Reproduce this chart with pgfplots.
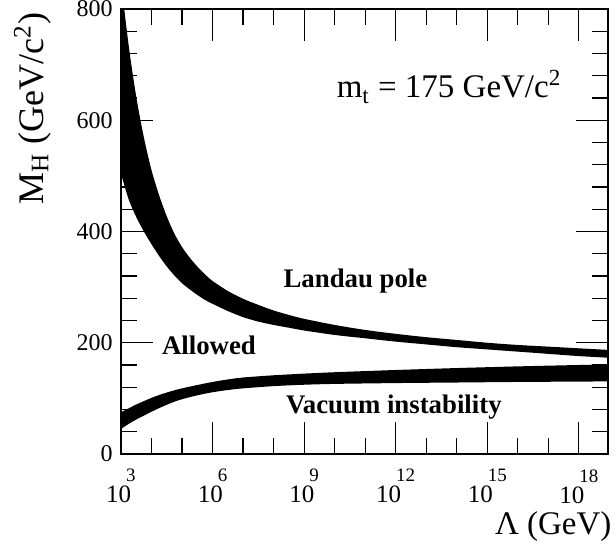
\documentclass[border=0pt]{standalone}
\usepackage{pgfplots}
\pgfplotsset{compat=1.18}
\usepgfplotslibrary{fillbetween}
\usepackage{fontspec}
\setmainfont{Liberation Serif}

% power-of-ten tick label with a raised exponent
\newcommand{\tenpow}[1]{10\kern-2.5pt\raisebox{10.5pt}{\fontsize{9.5}{9.5}\selectfont #1}}

\begin{document}
\begin{tikzpicture}
\begin{axis}[
  name=ax,
  scale only axis,
  width=243.5pt, height=222.5pt,
  xmode=log, log basis x=10,
  xmin=1e3, xmax=9e18,
  ymin=0, ymax=800,
  xtick={1e3,1e6,1e9,1e12,1e15,1e18},
  xticklabels={\tenpow{3},\tenpow{6},\tenpow{9},\tenpow{12},\tenpow{15},\tenpow{18}},
  minor xtick={1e4,1e5,1e7,1e8,1e10,1e11,1e13,1e14,1e16,1e17},
  ytick={0,200,400,600,800},
  yticklabels={0,200,400,600,800},
  minor y tick num=4,
  tick align=inside,
  tick pos=both,
  major tick length=16pt,
  minor tick length=8pt,
  axis line style={line width=1pt},
  every tick/.append style={black, line width=0.6pt},
  xticklabel style={font=\fontsize{12.5}{12.5}\selectfont, inner sep=0pt, anchor=north, yshift=-7.5pt},
  yticklabel style={font=\fontsize{12}{12}\selectfont, inner sep=0pt, anchor=east, xshift=-4pt},
  xlabel={Λ (GeV)},
  xlabel style={font=\fontsize{16.5}{16.5}\selectfont, at={(axis description cs:1.008,-0.182)}, anchor=base east, inner sep=0pt},
  ylabel={M\textsubscript{H} (GeV/c\textsuperscript{2})},
  ylabel style={font=\fontsize{18}{18}\selectfont, at={(axis description cs:-0.16,0.776)}, anchor=base, inner sep=0pt},
  clip=true,
]

% Landau pole band: upper and lower edges
\addplot[name path=LPhi, draw=none, smooth] coordinates {
  (1e3,850) (1.778e3,735) (3.162e3,642) (5.623e3,569) (1e4,510)
  (1.778e4,465) (3.162e4,427) (5.623e4,396) (1e5,372) (1.778e5,353)
  (3.162e5,337) (5.623e5,323) (1e6,311) (3.162e6,293) (1e7,279)
  (3.162e7,268) (1e8,258) (3.162e8,250) (1e9,243) (1e10,232)
  (1e11,223) (1e12,216) (1e13,210) (1e14,205) (1e15,200) (1e16,196)
  (1e17,193) (1e18,190) (1e19,187)
};
\addplot[name path=LPlo, draw=none, smooth] coordinates {
  (1e3,504) (1.778e3,458) (3.162e3,426) (5.623e3,400) (1e4,377)
  (1.778e4,356) (3.162e4,337) (5.623e4,321) (1e5,307) (1.778e5,296)
  (3.162e5,286) (5.623e5,277) (1e6,270) (3.162e6,257) (1e7,246)
  (3.162e7,238) (1e8,232) (3.162e8,227) (1e9,222) (1e10,214)
  (1e11,208) (1e12,202) (1e13,197) (1e14,192) (1e15,188) (1e16,184)
  (1e17,180) (1e18,176) (1e19,173)
};
\addplot[black, draw=none] fill between[of=LPhi and LPlo];

% vacuum stability band: lower and upper edges
\addplot[name path=VSlo, draw=none, smooth] coordinates {
  (1e3,45) (1.778e3,54) (3.162e3,62) (5.623e3,69) (1e4,76)
  (1.778e4,82.5) (3.162e4,88.5) (5.623e4,94) (1e5,98.5) (3.162e5,105.5)
  (1e6,111) (3.162e6,115) (1e7,118) (1e8,122) (1e9,124.5) (1e10,126)
  (1e12,127.5) (1e14,128.5) (1e16,129.5) (1e19,130.5)
};
\addplot[name path=VShi, draw=none, smooth] coordinates {
  (1e3,75) (1.778e3,82) (3.162e3,89) (5.623e3,95) (1e4,101)
  (1.778e4,106) (3.162e4,110.5) (5.623e4,114.5) (1e5,118) (3.162e5,124)
  (1e6,129.5) (3.162e6,134) (1e7,137.5) (1e8,141.5) (1e9,144.5) (1e10,147)
  (1e12,151) (1e14,154.5) (1e16,157.5) (1e18,160) (1e19,161)
};
\addplot[black, draw=none] fill between[of=VShi and VSlo];

\node[font=\fontsize{13.4}{13.4}\selectfont\bfseries, anchor=base] at (axis cs:4.8e10,300) {Landau pole};
\node[font=\fontsize{13.4}{13.4}\selectfont\bfseries, anchor=base] at (axis cs:7.6e5,179) {Allowed};
\node[font=\fontsize{13.4}{13.4}\selectfont\bfseries, anchor=base] at (axis cs:8.7e11,73.5) {Vacuum instability};
\node[font=\fontsize{16.5}{16.5}\selectfont, anchor=base] at (axis cs:5.6e13,640) {m\textsubscript{t} = 175 GeV/c\textsuperscript{2}};

\end{axis}
\path ([shift={(-60.5pt,-48pt)}]ax.south west) rectangle ([shift={(4pt,4.5pt)}]ax.north east);
\end{tikzpicture}
\end{document}
